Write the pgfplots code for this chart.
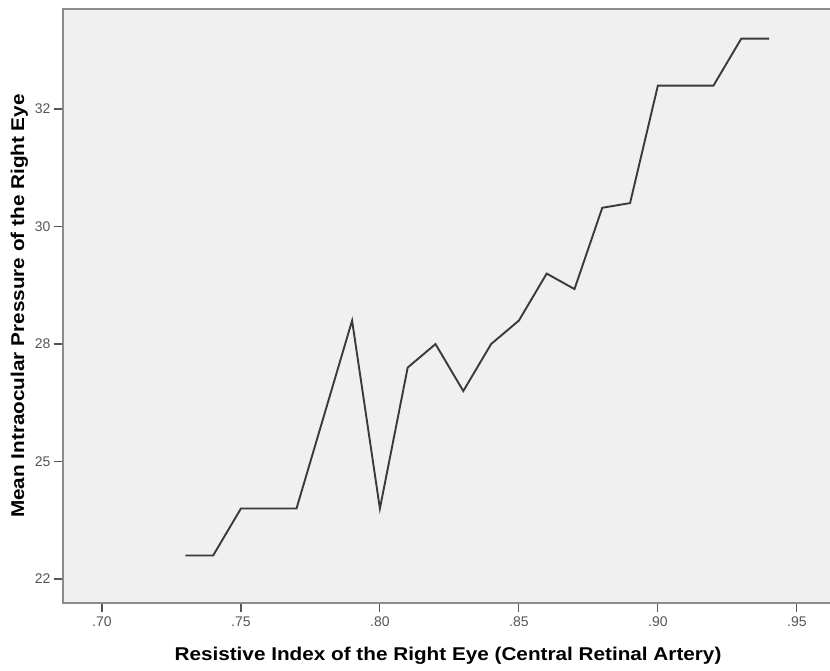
\documentclass[border=0pt]{standalone}
\usepackage{pgfplots}
\pgfplotsset{compat=1.18}
\usepackage{fontspec}
\setmainfont{Liberation Sans}
\newfontfamily\lblfont[FakeStretch=1.12]{Liberation Sans}
\definecolor{bgc}{HTML}{F0F0F0}
\definecolor{axc}{HTML}{8C8C8C}
\definecolor{tlc}{HTML}{555555}
\definecolor{linec}{HTML}{3A3A3A}
\begin{document}
\begin{tikzpicture}[x=1pt,y=1pt]
\useasboundingbox (0,0) rectangle (830,670);
\begin{axis}[
  at={(63pt,67pt)}, anchor=south west,
  scale only axis, width=770pt, height=594pt,
  xmin=0.686, xmax=0.963, ymin=21.99, ymax=34.63,
  axis background/.style={fill=bgc},
  axis line style={axc, line width=1.8pt},
  xtick={0.70,0.75,0.80,0.85,0.90,0.95},
  xticklabels={.70,.75,.80,.85,.90,.95},
  ytick={22.5,25,27.5,30,32.5},
  yticklabels={22,25,28,30,32},
  tick align=outside, tick pos=lower,
  major tick length=9pt,
  tick style={tlc, line width=1.2pt},
  ticklabel style={font=\fontsize{14}{16}\selectfont, text=tlc},
  xticklabel style={yshift=-1pt},
  /pgf/number format/assume math mode=true,
  xlabel={\lblfont\bfseries Resistive Index of the Right Eye (Central Retinal Artery)},
  ylabel={\lblfont\bfseries Mean Intraocular Pressure of the Right Eye},
  label style={font=\fontsize{18.5}{21}\selectfont, text=black},
  xlabel style={yshift=-14pt},
  ylabel style={yshift=0pt},
  clip=false,
]
\addplot[linec, line width=1.9pt, line join=miter] coordinates {
(0.73,23) (0.74,23) (0.75,24) (0.76,24) (0.77,24) (0.78,26) (0.79,28)
(0.80,24) (0.81,27) (0.82,27.5) (0.83,26.5) (0.84,27.5) (0.85,28)
(0.86,29) (0.87,28.67) (0.88,30.4) (0.89,30.5) (0.90,33) (0.91,33)
(0.92,33) (0.93,34) (0.94,34)
};
\end{axis}
\end{tikzpicture}
\end{document}
